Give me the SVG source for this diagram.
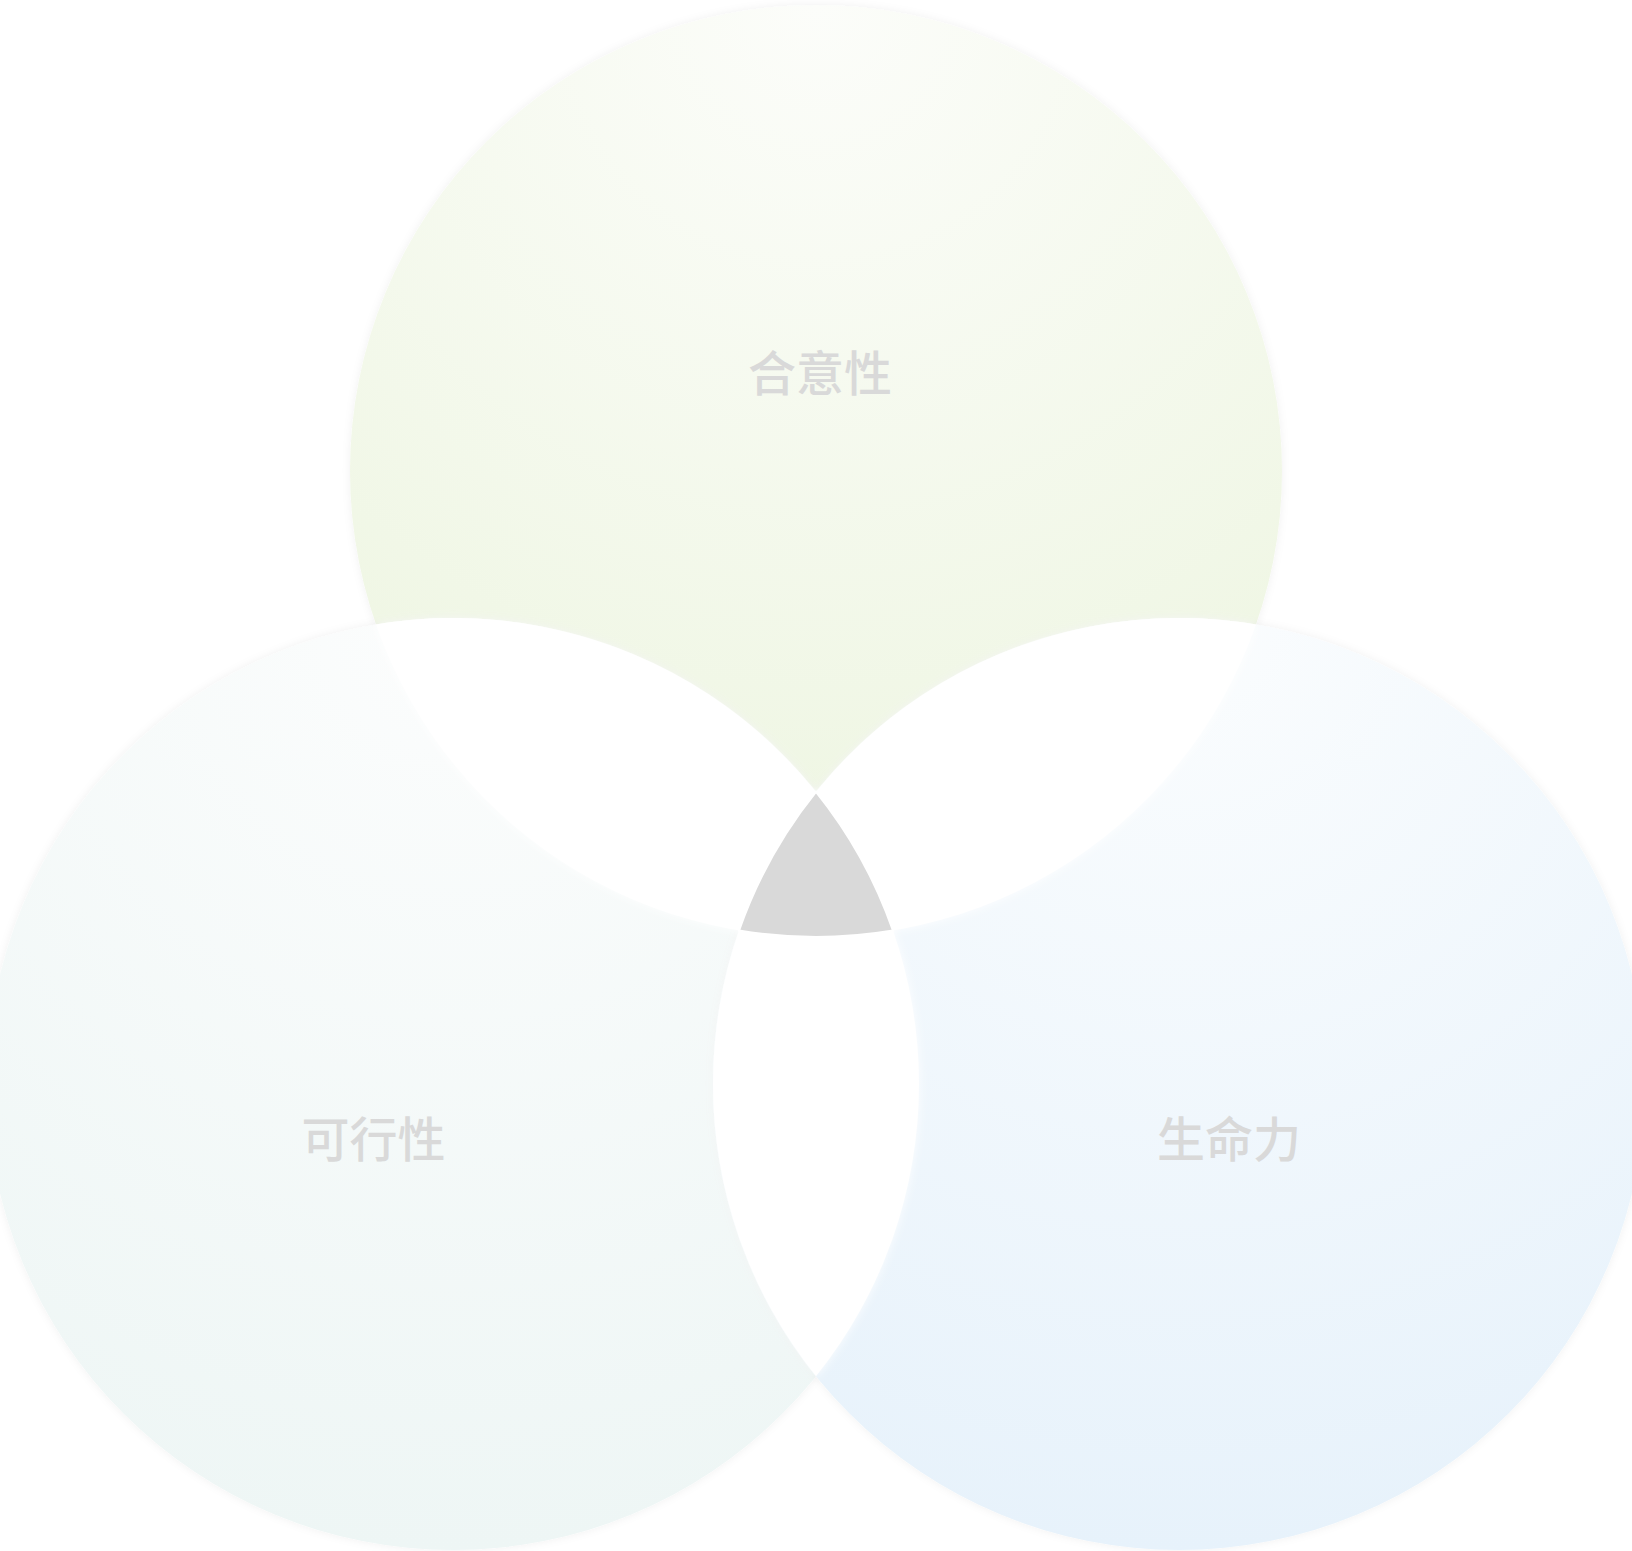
<svg xmlns="http://www.w3.org/2000/svg" width="1632" height="1551" viewBox="0 0 1632 1551">
<defs>
<radialGradient id="gTop" cx="0.5" cy="0" r="1" fx="0.5" fy="0">
<stop offset="0" stop-color="#fcfdfa"/>
<stop offset="1" stop-color="#edf5e0"/>
</radialGradient>
<radialGradient id="gLeft" cx="0.5" cy="0" r="1" fx="0.5" fy="0">
<stop offset="0" stop-color="#fcfdfd"/>
<stop offset="1" stop-color="#eef6f5"/>
</radialGradient>
<radialGradient id="gRight" cx="0.5" cy="0" r="1" fx="0.5" fy="0">
<stop offset="0" stop-color="#fbfdfe"/>
<stop offset="1" stop-color="#e7f2fb"/>
</radialGradient>
<filter id="sh" x="-10%" y="-10%" width="120%" height="120%">
<feDropShadow dx="0" dy="0" stdDeviation="4" flood-color="#000" flood-opacity="0.06"/>
</filter>
<filter id="shl" x="-10%" y="-10%" width="120%" height="120%">
<feDropShadow dx="0" dy="0" stdDeviation="5" flood-color="#ffffff" flood-opacity="0.9"/>
</filter>
</defs>
<style>
.lbl{font-family:"Noto Sans CJK SC","Noto Sans",sans-serif;font-size:48px;font-weight:500;fill:#d9d9d9;text-anchor:middle}
.lens{fill:#ffffff;filter:url(#shl)}
</style>
<rect width="1632" height="1551" fill="#ffffff"/>
<g id="node-desirability">
<circle cx="816" cy="471" r="466" fill="url(#gTop)" filter="url(#sh)"/>
</g>
<g id="node-feasibility">
<circle cx="453" cy="1084" r="466" fill="url(#gLeft)" filter="url(#sh)"/>
</g>
<g id="node-viability">
<circle cx="1179" cy="1084" r="466" fill="url(#gRight)" filter="url(#sh)"/>
</g>
<g id="overlaps">
<path class="lens" d="M376,624.4 A466,466 0 0 1 893,930.6 A466,466 0 0 1 376,624.4 Z"/>
<path class="lens" d="M739,930.6 A466,466 0 0 1 1256,624.4 A466,466 0 0 1 739,930.6 Z"/>
<path class="lens" d="M816,791.8 A466,466 0 0 1 816,1376.2 A466,466 0 0 1 816,791.8 Z"/>
<path id="center" d="M816,791.8 A466,466 0 0 1 893,930.6 A466,466 0 0 1 739,930.6 A466,466 0 0 1 816,791.8 Z" fill="#d9d9d9" stroke="#ffffff" stroke-width="2"/>
</g>
<g id="labels">
<text class="lbl" x="820" y="391">合意性</text>
<text class="lbl" x="373.5" y="1157">可行性</text>
<text class="lbl" x="1229" y="1157">生命力</text>
</g>
</svg>
